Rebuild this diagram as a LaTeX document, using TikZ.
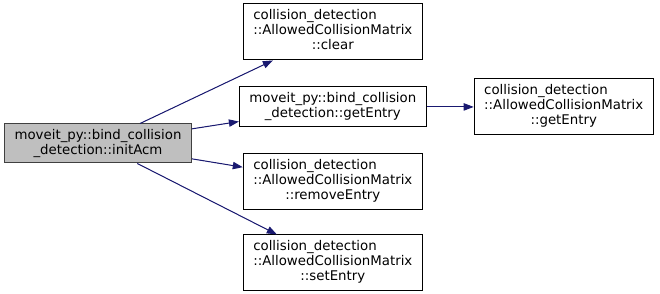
\documentclass[tikz,border=0pt]{standalone}
\usepackage{fontspec}
\setmainfont{DejaVu Sans}
\usepackage{tikz}
\usetikzlibrary{arrows.meta, positioning}

\definecolor{edgeblue}{HTML}{191970}
\definecolor{rootfill}{HTML}{BFBFBF}
\definecolor{rootline}{HTML}{404040}

% member of collision_detection::AllowedCollisionMatrix, first lines left, last centred
\newcommand{\acmmember}[1]{\begin{tabular}{@{}l@{}}collision\_detection\\ ::AllowedCollisionMatrix\\ \multicolumn{1}{@{}c@{}}{::#1}\end{tabular}}

\begin{document}
\begin{tikzpicture}[
    fn/.style={draw, rectangle, line width=0.75pt, fill=white, align=center, inner xsep=7.5pt,
               font=\fontsize{10}{11.25}\selectfont, minimum height=42pt},
    fnshort/.style={fn, minimum height=30pt},
    rootfn/.style={fnshort, fill=rootfill, draw=rootline, minimum height=29.25pt},
    call/.style={-{Triangle[length=7.5pt, width=5.5pt]}, draw=edgeblue, fill=edgeblue, line width=0.75pt}
]

\useasboundingbox (0,0) rectangle (495pt,-219.75pt);

\node[rootfn] (initacm) at (73.5pt,-107.6pt) {moveit\_py::bind\_collision \\ \_detection::initAcm};

\node[fnshort, right=35.25pt of initacm, yshift=27.4pt] (getentry) {moveit\_py::bind\_collision \\ \_detection::getEntry};
\node[fn, above=19.5pt of getentry] (clear) {\acmmember{clear}};
\node[fn, below=19.5pt of getentry] (removeentry) {\acmmember{removeEntry}};
\node[fn, below=18pt of removeentry] (setentry) {\acmmember{setEntry}};
\node[fn, right=35.25pt of getentry] (acmgetentry) {\acmmember{getEntry}};

\draw[call] (initacm) -- (clear);
\draw[call] (initacm) -- (getentry);
\draw[call] (initacm) -- (removeentry);
\draw[call] (initacm) -- (setentry);
\draw[call] (getentry) -- (acmgetentry);

\end{tikzpicture}
\end{document}
